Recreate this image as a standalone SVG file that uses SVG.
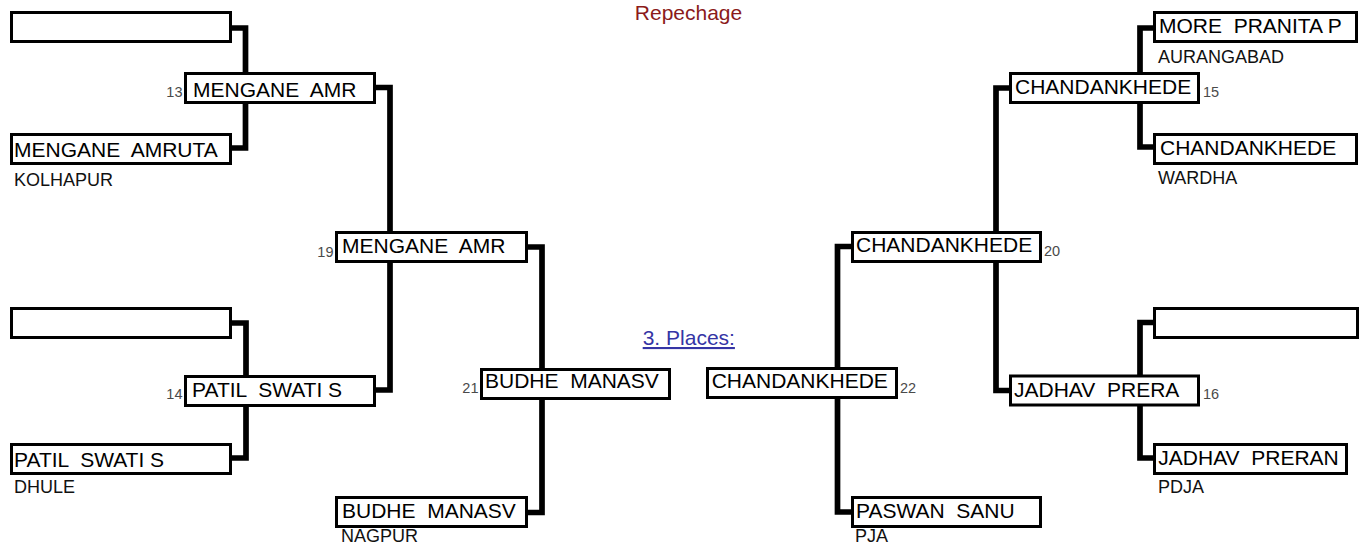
<svg xmlns="http://www.w3.org/2000/svg" width="1359" height="546" viewBox="0 0 1359 546">
<style>
.box{fill:#fff;stroke:#000;stroke-width:3}
.nm{font-family:"Liberation Sans",Arial,sans-serif;font-size:21px;fill:#000;white-space:pre}
.city{font-family:"Liberation Sans",Arial,sans-serif;font-size:18px;fill:#111}
.num{font-family:"Liberation Sans",Arial,sans-serif;font-size:14.5px;fill:#4a4a4a}
.lnum{text-anchor:end}
.con{fill:none;stroke:#000;stroke-width:5.7;stroke-linejoin:miter;stroke-linecap:butt}
.title{font-family:"Liberation Sans",Arial,sans-serif;font-size:21px;text-anchor:middle}
</style>
<rect width="1359" height="546" fill="#fff"/>
<text class="title" x="688.5" y="19.5" fill="#8b1a1a">Repechage</text>
<text class="title" x="688.8" y="345" fill="#3535a5" text-decoration="underline">3. Places:</text>
<g id="connectors">
<path class="con" d="M230,28 H245.5 V148 H230"/>
<path class="con" d="M374,87.5 H390 V390 H374"/>
<path class="con" d="M230,323 H246 V458 H230"/>
<path class="con" d="M526,247 H542 V512.5 H526"/>
<path class="con" d="M1155,28 H1140 V147 H1155"/>
<path class="con" d="M1011,88 H996 V390.5 H1011"/>
<path class="con" d="M1155,322.5 H1140 V458 H1155"/>
<path class="con" d="M853,246.5 H837.5 V512 H853"/>
</g>
<g id="n-l1a"><rect class="box" x="11.5" y="12.5" width="219" height="29"/></g>
<g id="n-13"><rect class="box" x="185.5" y="73.5" width="189" height="29"/><text class="nm" xml:space="preserve" x="193" y="97">MENGANE  AMR</text><text class="num lnum" x="182.5" y="97.3">13</text></g>
<g id="n-l1b"><rect class="box" x="11.5" y="134.5" width="219" height="29"/><text class="nm" xml:space="preserve" x="14" y="156.5">MENGANE  AMRUTA</text><text class="city" x="14" y="186">KOLHAPUR</text></g>
<g id="n-l2a"><rect class="box" x="11.5" y="308.5" width="219" height="29"/></g>
<g id="n-14"><rect class="box" x="185.5" y="376.5" width="189" height="29"/><text class="nm" xml:space="preserve" x="192" y="396.7">PATIL  SWATI S</text><text class="num lnum" x="182.5" y="399">14</text></g>
<g id="n-l2b"><rect class="box" x="11.5" y="444.5" width="219" height="29"/><text class="nm" xml:space="preserve" x="14" y="466.7">PATIL  SWATI S</text><text class="city" x="14" y="493">DHULE</text></g>
<g id="n-19"><rect class="box" x="336.5" y="232.5" width="190" height="29"/><text class="nm" xml:space="preserve" x="342" y="252.7">MENGANE  AMR</text><text class="num lnum" x="333.5" y="256.7">19</text></g>
<g id="n-21"><rect class="box" x="481.5" y="369.5" width="188" height="29"/><text class="nm" xml:space="preserve" x="485" y="387.7">BUDHE  MANASV</text><text class="num lnum" x="478.5" y="392.7">21</text></g>
<g id="n-l3b"><rect class="box" x="336.5" y="497.5" width="190" height="29"/><text class="nm" xml:space="preserve" x="342" y="518.3">BUDHE  MANASV</text><text class="city" x="341" y="542" font-size="17">NAGPUR</text></g>
<g id="n-r1a"><rect class="box" x="1154.5" y="12.5" width="202" height="29"/><text class="nm" xml:space="preserve" x="1159" y="33.3">MORE  PRANITA P</text><text class="city" x="1158" y="62.7">AURANGABAD</text></g>
<g id="n-15"><rect class="box" x="1010.5" y="73.5" width="188" height="29"/><text class="nm" xml:space="preserve" x="1015" y="94.3">CHANDANKHEDE</text><text class="num" x="1203" y="97.3">15</text></g>
<g id="n-r1b"><rect class="box" x="1154.5" y="134.5" width="202" height="29"/><text class="nm" xml:space="preserve" x="1160" y="155">CHANDANKHEDE</text><text class="city" x="1158" y="184.3">WARDHA</text></g>
<g id="n-r2a"><rect class="box" x="1154.5" y="308.5" width="203" height="29"/></g>
<g id="n-16"><rect class="box" x="1010.5" y="376" width="188" height="29"/><text class="nm" xml:space="preserve" x="1014" y="396.7">JADHAV  PRERA</text><text class="num" x="1203" y="399.3">16</text></g>
<g id="n-r2b"><rect class="box" x="1154.5" y="444.5" width="192" height="29"/><text class="nm" xml:space="preserve" x="1158.3" y="465">JADHAV  PRERAN</text><text class="city" x="1158" y="492.7">PDJA</text></g>
<g id="n-20"><rect class="box" x="852.5" y="232.5" width="188" height="29"/><text class="nm" xml:space="preserve" x="856" y="251.7">CHANDANKHEDE</text><text class="num" x="1044" y="256">20</text></g>
<g id="n-22"><rect class="box" x="707.5" y="368.5" width="189" height="29"/><text class="nm" xml:space="preserve" x="711.7" y="388.3">CHANDANKHEDE</text><text class="num" x="900" y="392.7">22</text></g>
<g id="n-r3b"><rect class="box" x="852.5" y="497.5" width="188" height="29"/><text class="nm" xml:space="preserve" x="856" y="518.3">PASWAN  SANU</text><text class="city" x="855" y="542" font-size="17">PJA</text></g>
</svg>
